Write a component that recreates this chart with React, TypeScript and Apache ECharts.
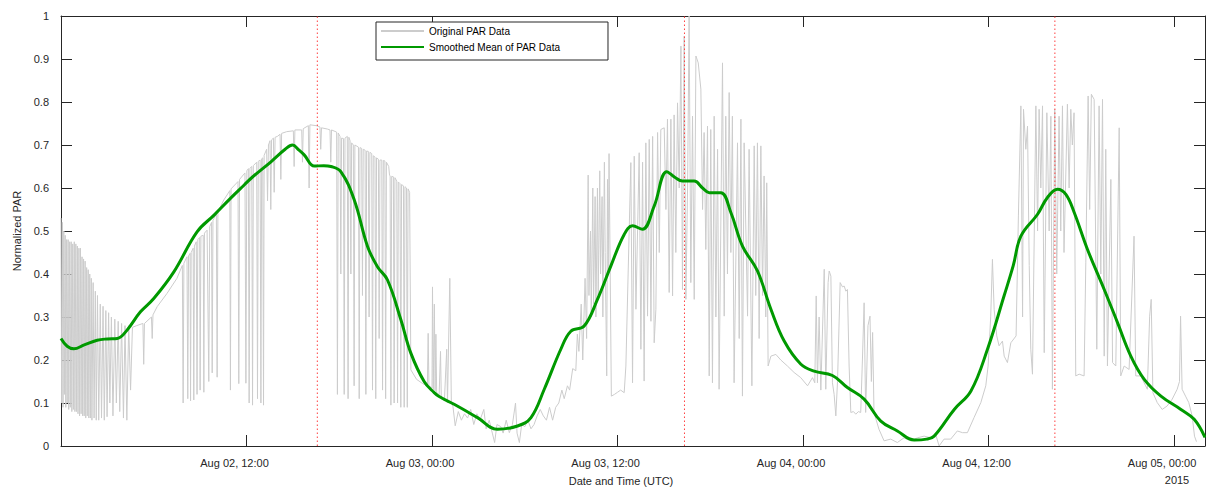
import { useEffect, useRef } from "react";
import * as echarts from "echarts";

// ---------- DATA (hours since Aug 02 00:00 UTC, normalized PAR) ----------
const dayLabels = ["Aug 02", "Aug 03", "Aug 04", "Aug 05"];
const yearLabel = "2015";
const solarNoonHours = [16.58, 40.33, 64.29];

const rawAug02Dawn: [number, number][] = [
  [0.0, 0.53], [0.04, 0.1], [0.09, 0.52], [0.13, 0.09], [0.18, 0.5], [0.22, 0.12], [0.27, 0.49], [0.31, 0.09],
  [0.36, 0.48], [0.4, 0.1], [0.46, 0.48], [0.5, 0.085], [0.56, 0.475], [0.6, 0.09], [0.66, 0.475], [0.7, 0.08],
  [0.76, 0.47], [0.8, 0.085], [0.86, 0.475], [0.9, 0.08], [0.96, 0.47], [1.0, 0.08], [1.06, 0.465], [1.1, 0.075],
  [1.16, 0.46], [1.2, 0.07], [1.26, 0.46], [1.3, 0.075], [1.36, 0.44], [1.4, 0.07], [1.46, 0.435], [1.5, 0.07],
  [1.56, 0.43], [1.6, 0.065], [1.66, 0.415], [1.7, 0.07], [1.76, 0.41], [1.8, 0.065], [1.86, 0.4], [1.9, 0.065],
  [1.96, 0.39], [2.0, 0.06], [2.08, 0.38], [2.14, 0.065], [2.22, 0.36], [2.28, 0.06], [2.36, 0.35], [2.44, 0.06],
  [2.54, 0.33], [2.62, 0.065], [2.72, 0.325], [2.8, 0.06], [2.9, 0.315], [2.98, 0.068], [3.08, 0.31], [3.16, 0.1],
  [3.26, 0.3], [3.36, 0.07], [3.48, 0.295], [3.58, 0.1], [3.7, 0.29], [3.8, 0.08], [3.92, 0.285], [4.04, 0.065],
  [4.14, 0.28], [4.26, 0.06], [4.38, 0.28], [4.5, 0.13],
];

const rawAug02Day: [number, number][] = [
  [4.62, 0.276], [4.9, 0.28], [5.3, 0.285], [5.35, 0.19], [5.4, 0.285], [5.85, 0.3], [5.9, 0.25], [5.95, 0.305],
  [6.22, 0.324], [6.86, 0.355], [7.5, 0.39], [7.85, 0.42], [7.9, 0.1], [7.95, 0.425], [8.15, 0.44], [8.2, 0.11],
  [8.25, 0.442], [8.35, 0.448], [8.38, 0.105], [8.42, 0.45], [8.55, 0.46], [8.59, 0.107], [8.63, 0.465], [8.75, 0.475],
  [8.8, 0.12], [8.85, 0.48], [8.97, 0.485], [9.0, 0.13], [9.05, 0.488], [9.2, 0.49], [9.24, 0.125], [9.28, 0.495],
  [9.45, 0.502], [9.56, 0.15], [9.62, 0.51], [9.74, 0.52], [9.78, 0.17], [9.83, 0.525], [10.05, 0.54], [10.1, 0.16],
  [10.15, 0.545], [10.53, 0.572], [10.92, 0.594], [10.96, 0.13], [11.0, 0.598], [11.45, 0.615], [11.5, 0.145], [11.55, 0.62],
  [11.9, 0.635], [11.96, 0.146], [12.02, 0.64], [12.12, 0.645], [12.17, 0.1], [12.22, 0.646], [12.34, 0.65], [12.39, 0.095],
  [12.44, 0.652], [12.66, 0.66], [12.71, 0.11], [12.76, 0.662], [12.88, 0.665], [12.93, 0.1], [12.98, 0.668], [13.05, 0.67],
  [13.1, 0.095], [13.14, 0.676], [13.3, 0.69], [13.36, 0.57], [13.42, 0.7], [13.52, 0.71], [13.57, 0.55], [13.62, 0.712],
  [13.74, 0.716], [13.79, 0.59], [13.85, 0.718], [14.0, 0.72], [14.17, 0.725], [14.22, 0.62], [14.27, 0.727], [14.6, 0.731],
  [15.03, 0.733], [15.08, 0.65], [15.13, 0.735], [15.57, 0.735], [15.62, 0.66], [15.67, 0.738], [16.0, 0.745], [16.05, 0.6],
  [16.1, 0.747], [16.5, 0.745], [16.75, 0.742], [16.8, 0.69], [16.85, 0.74], [17.24, 0.737], [17.4, 0.735], [17.45, 0.66],
  [17.5, 0.735], [17.83, 0.73], [17.88, 0.12], [17.93, 0.728], [18.05, 0.72], [18.1, 0.4], [18.15, 0.716], [18.27, 0.715],
  [18.32, 0.12], [18.37, 0.716], [18.52, 0.72], [18.57, 0.11], [18.62, 0.718], [18.7, 0.71], [18.75, 0.4], [18.8, 0.705],
  [18.91, 0.7], [18.96, 0.14], [19.01, 0.7], [19.24, 0.695], [19.29, 0.11], [19.34, 0.694], [19.45, 0.692], [19.5, 0.35],
  [19.55, 0.69], [19.67, 0.688], [19.72, 0.12], [19.77, 0.686], [19.88, 0.685], [19.93, 0.3], [19.98, 0.683], [20.1, 0.68],
  [20.15, 0.13], [20.2, 0.675], [20.31, 0.672], [20.36, 0.11], [20.41, 0.67], [20.53, 0.667], [20.58, 0.25], [20.63, 0.665],
  [20.75, 0.665], [20.8, 0.13], [20.85, 0.664], [20.95, 0.663], [21.0, 0.11], [21.05, 0.66], [21.2, 0.65], [21.25, 0.63],
  [21.29, 0.628], [21.34, 0.095], [21.39, 0.627], [21.5, 0.626], [21.55, 0.1], [21.6, 0.624], [21.72, 0.616], [21.77, 0.1],
  [21.82, 0.614], [21.93, 0.61], [21.98, 0.09], [22.03, 0.608], [22.15, 0.605], [22.2, 0.09], [22.25, 0.603], [22.35, 0.6],
  [22.4, 0.09], [22.45, 0.598], [22.55, 0.59], [22.63, 0.177], [23.0, 0.155], [23.4, 0.145], [23.7, 0.14], [23.75, 0.262],
  [23.8, 0.14], [24.0, 0.135], [24.03, 0.37], [24.08, 0.13], [24.15, 0.33], [24.2, 0.128], [24.25, 0.26], [24.3, 0.125],
  [24.46, 0.119],
];

const rawAug03Night: [number, number][] = [
  [24.55, 0.22], [24.6, 0.11], [24.8, 0.105], [24.95, 0.225], [25.0, 0.1], [25.15, 0.39], [25.25, 0.1], [25.35, 0.093],
  [25.5, 0.047], [25.7, 0.08], [25.9, 0.06], [26.1, 0.075], [26.3, 0.065], [26.5, 0.085], [26.7, 0.05], [26.9, 0.075],
  [27.1, 0.06], [27.35, 0.085], [27.5, 0.04], [27.7, 0.06], [27.9, 0.03], [28.05, 0.008], [28.2, 0.05], [28.45, 0.045],
  [28.6, 0.03], [28.8, 0.06], [29.0, 0.031], [29.2, 0.05], [29.4, 0.1], [29.5, 0.03], [29.65, 0.008], [29.8, 0.05],
  [30.0, 0.045], [30.2, 0.06], [30.4, 0.04], [30.6, 0.05], [30.8, 0.07], [31.0, 0.085], [31.2, 0.07], [31.4, 0.06],
  [31.6, 0.09], [31.8, 0.06], [32.0, 0.09], [32.2, 0.1], [32.4, 0.13], [32.55, 0.11], [32.76, 0.14], [32.9, 0.13],
  [33.1, 0.18], [33.3, 0.175], [33.4, 0.26], [33.5, 0.22], [33.65, 0.33], [33.75, 0.2], [33.9, 0.39], [34.0, 0.25],
  [34.1, 0.63], [34.15, 0.35], [34.25, 0.5], [34.3, 0.3], [34.4, 0.6], [34.45, 0.33], [34.55, 0.58], [34.6, 0.3],
  [34.7, 0.6], [34.75, 0.35], [34.85, 0.64], [34.9, 0.4], [35.0, 0.58], [35.05, 0.3], [35.15, 0.66], [35.2, 0.45],
  [35.3, 0.163], [35.35, 0.62], [35.4, 0.4], [35.45, 0.68], [35.5, 0.5], [35.6, 0.116], [35.8, 0.12], [36.0, 0.125],
  [36.2, 0.13], [36.43, 0.124],
];

const rawAug03Day: [number, number][] = [
  [36.54, 0.186], [36.86, 0.659], [36.97, 0.147], [37.08, 0.674], [37.19, 0.318], [37.4, 0.682], [37.51, 0.225], [37.62, 0.66],
  [37.72, 0.151], [37.83, 0.705], [37.94, 0.302], [38.05, 0.713], [38.16, 0.29], [38.27, 0.72], [38.37, 0.24], [38.48, 0.318],
  [38.59, 0.729], [38.7, 0.45], [38.8, 0.736], [39.02, 0.74], [39.13, 0.55], [39.23, 0.76], [39.34, 0.357], [39.45, 0.76],
  [39.56, 0.349], [39.66, 0.77], [39.77, 0.45], [39.88, 0.798], [39.99, 0.6], [40.1, 0.93], [40.2, 0.364], [40.31, 0.953],
  [40.42, 0.341], [40.53, 0.6], [40.63, 1.0], [40.74, 0.38], [40.85, 0.767], [40.96, 0.341], [41.07, 0.907], [41.22, 0.891],
  [41.39, 0.83], [41.5, 0.55], [41.6, 0.729], [41.71, 0.457], [41.82, 0.744], [41.93, 0.163], [42.03, 0.736], [42.14, 0.147],
  [42.25, 0.767], [42.36, 0.3], [42.47, 0.69], [42.57, 0.132], [42.79, 0.891], [42.9, 0.302], [43.0, 0.767], [43.11, 0.4],
  [43.22, 0.822], [43.33, 0.45], [43.43, 0.767], [43.54, 0.147], [43.76, 0.705], [43.87, 0.25], [43.98, 0.76], [44.08, 0.116],
  [44.19, 0.705], [44.41, 0.302], [44.51, 0.69], [44.69, 0.14], [44.84, 0.698], [44.94, 0.35], [45.05, 0.705], [45.16, 0.25],
  [45.27, 0.698], [45.38, 0.35], [45.48, 0.628], [45.59, 0.3], [45.65, 0.612], [45.74, 0.186], [45.92, 0.209], [46.24, 0.213],
  [46.56, 0.2], [46.99, 0.186], [47.42, 0.171], [47.85, 0.159], [48.29, 0.14], [48.61, 0.159], [48.76, 0.147], [48.85, 0.349],
  [48.93, 0.147],
];

const rawAug04Night: [number, number][] = [
  [49.04, 0.3], [49.15, 0.13], [49.37, 0.411], [49.47, 0.132], [49.62, 0.38], [49.69, 0.407], [49.8, 0.395], [49.9, 0.147],
  [50.01, 0.12], [50.12, 0.07], [50.23, 0.15], [50.4, 0.38], [50.55, 0.37], [50.66, 0.372], [50.77, 0.36], [50.87, 0.364],
  [50.98, 0.186], [51.09, 0.078], [51.26, 0.08], [51.41, 0.074], [51.58, 0.08], [51.73, 0.078], [51.84, 0.2], [51.95, 0.333],
  [52.05, 0.078], [52.2, 0.28], [52.33, 0.302], [52.42, 0.15], [52.5, 0.264], [52.59, 0.078], [52.91, 0.039], [53.24, 0.012],
  [53.67, 0.016], [54.1, 0.008], [54.53, 0.019], [54.96, 0.012], [55.4, 0.019], [55.83, 0.023], [56.26, 0.019], [56.58, 0.027],
  [56.8, 0.0], [57.12, 0.016], [57.55, 0.016], [57.98, 0.035], [58.31, 0.031], [58.63, 0.031], [59.06, 0.066], [59.5, 0.101],
  [59.82, 0.14], [59.97, 0.186], [60.14, 0.302], [60.25, 0.434], [60.36, 0.318], [60.53, 0.256], [60.68, 0.233], [60.9, 0.244],
];

const rawAug04Day: [number, number][] = [
  [61.01, 0.209], [61.22, 0.194], [61.44, 0.24], [61.78, 0.256], [61.93, 0.535], [62.09, 0.791], [62.2, 0.3], [62.26, 0.783],
  [62.41, 0.69], [62.52, 0.744], [62.63, 0.42], [62.73, 0.225], [62.84, 0.167], [63.06, 0.791], [63.17, 0.5], [63.27, 0.783],
  [63.38, 0.6], [63.49, 0.791], [63.6, 0.217], [63.77, 0.775], [63.92, 0.5], [64.03, 0.767], [64.13, 0.132], [64.28, 0.783],
  [64.41, 0.4], [64.56, 0.767], [64.67, 0.5], [64.78, 0.791], [64.88, 0.45], [65.1, 0.795], [65.21, 0.6], [65.32, 0.783],
  [65.42, 0.7], [65.53, 0.775], [65.64, 0.163], [65.86, 0.167], [66.18, 0.163], [66.29, 0.426], [66.44, 0.814], [66.54, 0.55],
  [66.65, 0.818], [66.83, 0.806], [67.0, 0.225], [67.15, 0.791], [67.26, 0.4], [67.37, 0.806], [67.48, 0.209], [67.58, 0.69],
  [67.69, 0.186], [67.91, 0.62], [68.02, 0.194], [68.23, 0.186], [68.45, 0.74], [68.55, 0.163], [68.77, 0.186], [69.09, 0.178],
  [69.41, 0.488], [69.52, 0.163], [69.84, 0.163], [70.16, 0.14], [70.27, 0.132], [70.42, 0.302], [70.52, 0.341], [70.63, 0.124],
  [70.91, 0.101], [71.23, 0.085], [71.55, 0.093], [71.88, 0.109], [72.2, 0.132], [72.35, 0.15], [72.42, 0.302], [72.52, 0.132],
  [72.74, 0.116], [72.95, 0.101], [73.17, 0.07], [73.32, 0.023], [73.45, 0.01],
];

const smoothedPar: [number, number][] = [
  [0, 0.25], [0.4, 0.232], [0.83, 0.226], [1.5, 0.235], [2.34, 0.246], [3.0, 0.249], [3.64, 0.25], [4.28, 0.27],
  [5.14, 0.312], [6.0, 0.343], [7.3, 0.405], [8.8, 0.498], [9.9, 0.537], [10.96, 0.576], [11.85, 0.607], [12.37, 0.625],
  [13.58, 0.661], [14.5, 0.69], [14.97, 0.7], [15.4, 0.688], [15.73, 0.677], [16.38, 0.651], [17.0, 0.652], [17.46, 0.65],
  [18.1, 0.638], [18.97, 0.572], [19.83, 0.464], [20.47, 0.417], [21.12, 0.386], [21.99, 0.293], [22.63, 0.216], [23.49, 0.15],
  [24.14, 0.124], [24.46, 0.115], [25.43, 0.097], [26.94, 0.066], [28.23, 0.039], [29.53, 0.0465], [30.4, 0.066], [31.26, 0.132],
  [32.33, 0.225], [32.98, 0.267], [33.84, 0.279], [34.7, 0.341], [35.57, 0.419], [36.43, 0.492], [36.97, 0.512], [37.61, 0.504],
  [38.37, 0.558], [39.19, 0.638], [39.7, 0.625], [40.2, 0.616], [40.96, 0.616], [41.5, 0.6], [41.93, 0.589], [42.68, 0.589],
  [43.33, 0.543], [44.08, 0.465], [45.05, 0.407], [45.92, 0.318], [46.78, 0.244], [47.86, 0.19], [48.72, 0.174], [49.9, 0.164],
  [50.87, 0.136], [51.95, 0.109], [53.03, 0.058], [54.1, 0.035], [55.19, 0.014], [56.0, 0.016], [56.48, 0.023], [57.78, 0.085],
  [58.86, 0.128], [59.93, 0.225], [61.01, 0.35], [61.6, 0.42], [62.09, 0.488], [63.17, 0.539], [63.81, 0.578], [64.46, 0.597],
  [65.0, 0.585], [65.54, 0.543], [66.4, 0.457], [67.48, 0.364], [68.34, 0.287], [69.2, 0.209], [70.07, 0.155], [71.15, 0.116],
  [72.44, 0.085], [73.3, 0.062], [74, 0.02],
];

// ---------- STYLE ----------
const FONT = "'Liberation Sans', Arial, Helvetica, sans-serif";
const AXIS_COLOR = "#262626";
const TEXT_COLOR = "#262626";
const RAW_COLOR = "#cccccc";
const SMOOTH_COLOR = "#009900";
const NOON_COLOR = "#ff4040";

function hourLabel(h: number): string {
  if (h <= 0 || h % 12 !== 0) return "";
  const d = Math.floor(h / 24);
  const hh = h - d * 24;
  return `${dayLabels[d]}, ${String(hh).padStart(2, "0")}:00`;
}

export default function App() {
  const ref = useRef<HTMLDivElement>(null);

  useEffect(() => {
    if (!ref.current) return;
    const chart = echarts.init(ref.current, undefined, { renderer: "svg" });
    const rawPar = [
      ...rawAug02Dawn,
      ...rawAug02Day,
      ...rawAug03Night,
      ...rawAug03Day,
      ...rawAug04Night,
      ...rawAug04Day,
    ];

    const axisLine = { show: true, onZero: false, lineStyle: { color: AXIS_COLOR, width: 1 } };
    const axisTick = { show: true, inside: true, length: 11, lineStyle: { color: AXIS_COLOR, width: 1 } };

    const noonSeries = solarNoonHours.map((h, i) => ({
      name: `Solar noon ${i + 1}`,
      type: "line",
      xAxisIndex: 0,
      yAxisIndex: 0,
      data: [
        [h, 0],
        [h, 1],
      ],
      symbol: "none",
      silent: true,
      color: NOON_COLOR,
      lineStyle: { color: NOON_COLOR, type: [1.5, 2.5], width: 1 },
      itemStyle: { color: NOON_COLOR },
      z: 2,
    }));

    chart.setOption({
      animation: false,
      backgroundColor: "#ffffff",
      textStyle: { fontFamily: FONT },
      grid: { left: 61, right: 1, top: 16, bottom: 42, containLabel: false, outerBoundsMode: "none" },
      legend: {
        orient: "vertical",
        left: 376,
        top: 22,
        padding: [4, 48, 8, 4],
        itemWidth: 43,
        itemHeight: 12,
        itemGap: 6,
        backgroundColor: "#ffffff",
        borderColor: AXIS_COLOR,
        borderWidth: 1,
        borderRadius: 0,
        itemStyle: { opacity: 0, color: "transparent", borderWidth: 0 },
        textStyle: { fontSize: 10, color: "#000000", fontFamily: FONT },
        data: ["Original PAR Data", "Smoothed Mean of PAR Data"],
      },
      xAxis: [
        {
          type: "value",
          position: "bottom",
          min: 0,
          max: 74,
          interval: 12,
          axisLine,
          axisTick,
          splitLine: { show: false },
          axisLabel: {
            formatter: (v: number) => hourLabel(v),
            fontSize: 11,
            color: TEXT_COLOR,
            fontFamily: FONT,
            margin: 11,
            padding: [0, 24, 0, 0],
          },
          name: "Date and Time (UTC)",
          nameLocation: "middle",
          nameGap: 29,
          nameTextStyle: { fontSize: 11, color: TEXT_COLOR, fontFamily: FONT, padding: [0, 24, 0, 0] },
        },
        {
          type: "value",
          position: "top",
          min: 0,
          max: 74,
          interval: 12,
          axisLine,
          axisTick,
          axisLabel: { show: false },
          splitLine: { show: false },
        },
      ],
      yAxis: [
        {
          type: "value",
          position: "left",
          min: 0,
          max: 1,
          interval: 0.1,
          axisLine,
          axisTick,
          splitLine: { show: false },
          axisLabel: {
            formatter: (v: number) => String(Math.round(v * 10) / 10),
            fontSize: 11,
            color: TEXT_COLOR,
            fontFamily: FONT,
            margin: 12,
          },
          name: "Normalized PAR",
          nameLocation: "middle",
          nameGap: 38,
          nameRotate: 90,
          nameTextStyle: { fontSize: 11, color: TEXT_COLOR, fontFamily: FONT },
        },
        {
          type: "value",
          position: "right",
          min: 0,
          max: 1,
          interval: 0.1,
          axisLine,
          axisTick,
          axisLabel: { show: false },
          splitLine: { show: false },
        },
      ],
      series: [
        {
          name: "Original PAR Data",
          type: "line",
          xAxisIndex: 0,
          yAxisIndex: 0,
          data: rawPar,
          symbol: "none",
          smooth: false,
          lineStyle: { color: RAW_COLOR, width: 1 },
          itemStyle: { color: RAW_COLOR },
          z: 1,
        },
        ...noonSeries,
        {
          name: "Smoothed Mean of PAR Data",
          type: "line",
          xAxisIndex: 0,
          yAxisIndex: 0,
          data: smoothedPar,
          symbol: "none",
          smooth: 0.4,
          lineStyle: { color: SMOOTH_COLOR, width: 3 },
          itemStyle: { color: SMOOTH_COLOR },
          z: 3,
        },
      ],
      graphic: [
        {
          type: "text",
          x: 1177,
          y: 480,
          style: {
            text: yearLabel,
            fontSize: 11,
            fontFamily: FONT,
            fill: TEXT_COLOR,
            textAlign: "center",
            textVerticalAlign: "middle",
          },
        },
      ],
    });

    return () => chart.dispose();
  }, []);

  return (
    <div
      ref={ref}
      style={{ position: "absolute", left: 0, top: 0, width: 1206, height: 488, background: "#fff" }}
    />
  );
}
